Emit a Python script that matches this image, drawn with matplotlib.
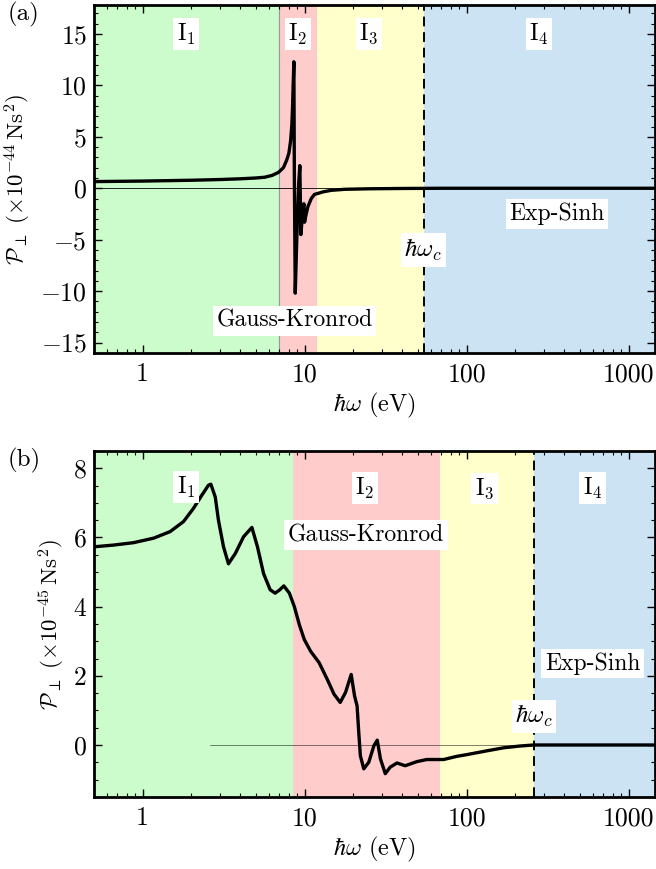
import numpy as np
import matplotlib
matplotlib.use('Agg')
import matplotlib.pyplot as plt
from matplotlib.ticker import MultipleLocator, FuncFormatter, LogLocator, NullFormatter

# -----------------------------
# data
# -----------------------------
# panel (a): P_perp in 1e-44 Ns^2
x_a = [0.5, 1.0, 2.0, 3.0, 4.0, 5.0, 5.66, 6.3, 6.91, 7.4, 7.74, 8.0, 8.2, 8.35, 8.43, 8.52, 8.59,
       8.65, 8.76, 8.95, 9.2, 9.35, 9.42, 9.49, 9.7, 9.9, 10.0, 10.2, 10.48, 11.0, 11.5, 13.0,
       14.6, 17.7, 25.0, 40.0, 70.0, 150.0, 400.0, 1450.0]
y_a = [0.65, 0.7, 0.78, 0.85, 0.92, 1.0, 1.07, 1.25, 1.55, 2.0, 2.7, 3.4, 4.6, 6.2, 7.9, 10.5, 12.3,
       1.0, -10.2, -5.0, 0.5, 2.2, -1.0, -4.5, -2.6, -1.5, -3.3, -2.6, -1.8, -1.0, -0.6, -0.35,
       -0.2, -0.1, -0.05, -0.02, 0.0, 0.0, 0.0, 0.0]

# panel (b): P_perp in 1e-45 Ns^2
x_b = [0.5, 0.662, 0.88, 1.17, 1.48, 1.79, 2.06, 2.32, 2.55, 2.64, 2.81, 2.94, 3.16, 3.39,
       3.74, 4.2, 4.73, 5.12, 5.58, 6.13, 6.58, 7.0, 7.45, 8.06, 8.65, 9.28, 9.96, 10.9,
       12.3, 13.8, 15.2, 16.6, 17.9, 19.4, 20.35, 21.1, 21.6, 22.1, 23.2, 24.9, 26.8, 28.1,
       29.4, 31.5, 33.8, 37.2, 41.8, 49.4, 56.8, 72.2, 86.7, 100.0, 133.0, 170.0, 213.0,
       260.0, 500.0, 1450.0]
y_b = [5.73, 5.78, 5.85, 5.98, 6.17, 6.46, 6.84, 7.22, 7.51, 7.54, 7.17, 6.5, 5.73, 5.24,
       5.54, 6.02, 6.29, 5.73, 4.96, 4.49, 4.39, 4.48, 4.6, 4.39, 4.0, 3.48, 3.05, 2.71,
       2.38, 1.9, 1.47, 1.23, 1.52, 2.04, 1.42, 1.13, 0.37, -0.31, -0.69, -0.5, -0.02, 0.14,
       -0.4, -0.83, -0.64, -0.52, -0.6, -0.48, -0.42, -0.42, -0.33, -0.28, -0.17, -0.08, -0.03,
       0.0, 0.0, 0.0]

# integration intervals (I1..I4) boundaries and cutoff hbar*omega_c
bounds_a = [0.5, 7.0, 12.0, 55.0, 1450.0]
bounds_b = [0.5, 8.5, 68.5, 260.0, 1450.0]
omega_c_a = 55.0
omega_c_b = 260.0
zero_start_b = 2.6

region_colors = ['#ccfccb', '#ffcccc', '#ffffcc', '#cce3f3']
region_names = [r'$\mathrm{I}_{1}$', r'$\mathrm{I}_{2}$', r'$\mathrm{I}_{3}$', r'$\mathrm{I}_{4}$']

# label anchors (x, y)
labels_a = [(1.86, 15.0), (9.1, 15.0), (25.0, 15.0), (280.0, 15.0)]
labels_b = [(1.86, 7.45), (23.5, 7.42), (129.0, 7.42), (600.0, 7.42)]
gk_a, es_a, wc_a = (8.7, -12.9), (363.0, -2.5), (54.0, -6.0)
gk_b, es_b, wc_b = (24.0, 6.07), (600.0, 2.36), (261.0, 0.83)

# -----------------------------
# style
# -----------------------------
plt.rcParams['font.family'] = 'serif'
plt.rcParams['font.serif'] = ['cmr10', 'DejaVu Serif']
plt.rcParams['mathtext.fontset'] = 'cm'
plt.rcParams['axes.unicode_minus'] = False
plt.rcParams['font.size'] = 14

fig = plt.figure(figsize=(6.56, 8.69), dpi=100)
ax_a = fig.add_axes([0.143, 0.594, 0.855, 0.400])
ax_b = fig.add_axes([0.143, 0.083, 0.855, 0.398])

box = dict(facecolor='white', edgecolor='none', pad=2.5)
yfmt = FuncFormatter(lambda v, p: r'$%g$' % v)


def setup(ax, bounds, cutoff, ylim, major, minor, ylabel, edge):
    for k in range(4):
        ax.axvspan(bounds[k], bounds[k + 1], facecolor=region_colors[k],
                   edgecolor=edge if k < 2 else 'none', linewidth=0.8, zorder=0)
    ax.axvline(cutoff, color='black', linestyle=(0, (5, 3)), linewidth=1.4, zorder=2)
    ax.set_xscale('log')
    ax.set_xlim(0.5, 1450)
    ax.set_ylim(*ylim)
    ax.set_xticks([1, 10, 100, 1000], labels=['1', '10', '100', '1000'])
    ax.xaxis.set_minor_locator(LogLocator(base=10, subs=np.arange(2, 10), numticks=20))
    ax.xaxis.set_minor_formatter(NullFormatter())
    ax.yaxis.set_major_locator(MultipleLocator(major))
    ax.yaxis.set_minor_locator(MultipleLocator(minor))
    ax.yaxis.set_major_formatter(yfmt)
    ax.tick_params(which='both', direction='in', top=True, right=True, labelsize=18.5)
    ax.tick_params(which='major', length=6, width=1.0)
    ax.tick_params(which='minor', length=3, width=0.8)
    ax.tick_params(axis='x', pad=7)
    ax.tick_params(axis='y', pad=5)
    for s in ax.spines.values():
        s.set_linewidth(2.0)
    ax.set_xlabel(r'$\hbar\omega$ (eV)', fontsize=17.5, labelpad=3)
    ax.set_ylabel(ylabel, fontsize=16.5, labelpad=5)


setup(ax_a, bounds_a, omega_c_a, (-16, 17.8), 5, 1,
      r'$\mathcal{P}_{\perp}\ (\times 10^{-44}\,\mathrm{Ns}^2)$', '#999999')
setup(ax_b, bounds_b, omega_c_b, (-1.5, 8.5), 2, 0.5,
      r'$\mathcal{P}_{\perp}\ (\times 10^{-45}\,\mathrm{Ns}^2)$', 'none')

# zero lines
ax_a.axhline(0, color='black', linewidth=0.6, zorder=3)
ax_b.plot([zero_start_b, 1450], [0, 0], color='black', linewidth=0.5, alpha=0.7, zorder=3)

# curves
ax_a.plot(x_a, y_a, color='black', linewidth=2.4, zorder=4, solid_joinstyle='round')
ax_b.plot(x_b, y_b, color='black', linewidth=2.4, zorder=4, solid_joinstyle='round')

# labels
for ax, labs, gk, es, wc in [(ax_a, labels_a, gk_a, es_a, wc_a), (ax_b, labels_b, gk_b, es_b, wc_b)]:
    for name, (lx, ly) in zip(region_names, labs):
        ax.text(lx, ly, name, ha='center', va='center', fontsize=17, bbox=box, zorder=5)
    ax.text(gk[0], gk[1], 'Gauss-Kronrod', ha='center', va='center', fontsize=17, bbox=box, zorder=5)
    ax.text(es[0], es[1], 'Exp-Sinh', ha='center', va='center', fontsize=17, bbox=box, zorder=5)
    ax.text(wc[0], wc[1], r'$\hbar\omega_c$', ha='center', va='center', fontsize=18, bbox=box, zorder=5)

fig.text(0.012, 0.983, '(a)', fontsize=18, va='center')
fig.text(0.012, 0.4707, '(b)', fontsize=18, va='center')

fig.savefig('out.png', dpi=100)
